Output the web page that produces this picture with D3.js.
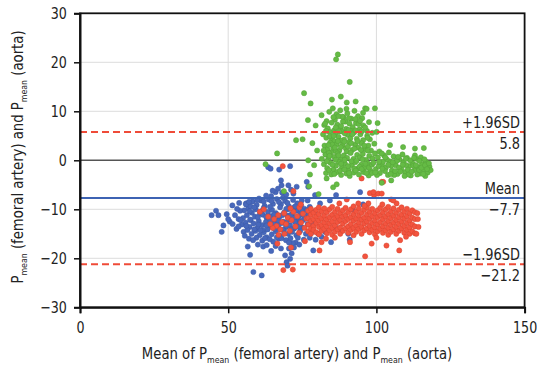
<!DOCTYPE html>
<html><head><meta charset="utf-8">
<script src="https://cdn.jsdelivr.net/npm/d3@7/dist/d3.min.js"></script>
<style>
body{margin:0;background:#fff;}
text{font-family:"DejaVu Sans Condensed","Liberation Sans Narrow",sans-serif;fill:#222;}
</style></head>
<body><svg id="c" width="537" height="367"></svg>
<script>
const xTicks=[0,50,100,150];
const yTicks=[-30,-20,-10,0,10,20,30];
const meanDiff=-7.7, upperLoA=5.8, lowerLoA=-21.2;
const refLabels=[{v:5.8,top:"+1.96SD",bot:"5.8"},{v:-7.7,top:"Mean",bot:"\u22127.7"},{v:-21.2,top:"\u22121.96SD",bot:"\u221221.2"}];

const bluePts=[[58.2,-8.4],[59.6,-9.1],[61.0,-8.2],[62.3,-9.3],[63.7,-8.0],[65.1,-8.9],[66.4,-7.9],[67.8,-9.0],[69.2,-8.3],[70.5,-9.4],[71.9,-8.1],[73.3,-8.8],[74.6,-9.2],[60.4,-7.8],[68.5,-7.6],
[55.4,-10.2],[56.8,-9.8],[58.0,-10.7],[59.3,-10.0],[60.7,-10.9],[62.0,-9.7],[63.4,-10.5],[64.8,-10.1],[66.1,-10.8],[67.5,-9.6],[68.9,-10.6],[70.2,-10.0],[71.6,-10.9],[73.0,-10.3],[74.4,-10.7],[75.7,-9.9],
[55.0,-11.8],[56.3,-11.2],[57.6,-12.2],[59.0,-11.5],[60.3,-12.4],[61.7,-11.1],[63.1,-12.0],[64.4,-11.4],[65.8,-12.3],[67.2,-11.6],[68.6,-12.5],[69.9,-11.3],[71.3,-12.1],[72.7,-11.7],[74.0,-12.4],[75.3,-11.2],
[54.6,-13.1],[55.9,-12.7],[57.2,-13.6],[58.6,-12.9],[59.9,-13.8],[61.3,-13.2],[62.7,-12.6],[64.0,-13.5],[65.4,-13.0],[66.8,-13.9],[68.2,-12.8],[69.5,-13.6],[70.9,-13.3],[72.3,-13.9],[73.6,-12.9],[75.0,-13.7],
[55.2,-14.6],[56.5,-14.2],[57.9,-15.0],[59.2,-14.4],[60.6,-15.3],[62.0,-14.7],[63.3,-14.1],[64.7,-15.1],[66.1,-14.5],[67.5,-15.4],[68.8,-14.3],[70.2,-15.0],[71.6,-14.6],[73.0,-15.3],[74.3,-14.4],[76.2,-15.0],[78.0,-14.8],[80.4,-15.0],[82.7,-14.6],
[57.0,-16.0],[59.5,-15.8],[61.5,-16.4],[63.0,-15.7],[65.2,-16.6],[67.0,-16.0],[69.5,-16.3],[71.0,-15.9],[72.8,-16.8],[75.5,-16.2],[84.7,-16.7],[78.7,-18.4],[60.0,-17.2],
[44.4,-11.2],[45.9,-10.3],[46.7,-11.2],[48.4,-13.3],[47.8,-14.6],[49.5,-11.0],[51.4,-9.2],[53.7,-8.7],[52.3,-11.2],[54.0,-10.3],[56.6,-17.6],[57.4,-19.3],[58.5,-22.8],[61.3,-23.5],[61.8,-17.6],
[63.5,-1.4],[64.3,-1.7],[67.2,-1.9],[70.9,-1.2],[67.8,-4.1],[68.0,-5.1],[70.3,-5.1],[73.1,-5.4],[76.5,-4.4],[77.0,-5.4],[69.7,-20.8],[70.9,-20.1],[71.4,-19.0],[72.2,-17.8],[69.2,-19.4],[75.3,-12.2],
[94.5,-6.5],[86.4,-7.1],[84.3,-8.2],[79.3,-7.1],[81.0,-8.8],[66.0,-6.5],[64.5,-7.3],[72.0,-6.8],[50.5,-12.5],[52.8,-14.0],[53.5,-12.0],[77.5,-9.5],[79.0,-10.5],[88.0,-14.5],[90.5,-15.0],[86.0,-13.5],[92.0,-10.0],[95.5,-9.0],[91.0,-16.2],[56.0,-8.8],
[65.0,-6.2],[66.8,-5.8],[68.2,-6.6],[69.6,-7.0],[71.2,-6.0],[70.5,-18.0],[71.8,-16.9],[70.0,-21.5],[62.8,-7.2],[57.5,-9.4],[53.0,-9.9],[76.8,-8.2],[78.2,-12.8],[77.0,-11.0],
[56.0,-9.0],[57.3,-10.4],[58.8,-9.6],[60.0,-11.6],[61.4,-10.3],[62.8,-11.5],[64.1,-9.5],[65.5,-11.1],[66.9,-12.4],[68.2,-11.2],[69.6,-9.9],[71.0,-11.2],[72.3,-9.6],[73.7,-11.5],[75.0,-10.4],
[56.1,-13.4],[57.4,-12.1],[58.8,-14.1],[60.2,-13.1],[61.6,-14.2],[62.9,-13.3],[64.3,-12.4],[65.7,-14.0],[67.0,-13.3],[68.4,-14.2],[69.8,-12.6],[71.2,-14.1],[72.5,-12.6],[73.9,-13.6],
[55.6,-15.4],[58.4,-16.3],[60.9,-14.3],[62.4,-15.9],[64.0,-16.1],[66.4,-15.7],[68.0,-15.9],[70.5,-16.8],[73.5,-15.8],[63.0,-17.3],[66.0,-17.5],[54.2,-12.2],[53.5,-13.5],[51.5,-13.0],[50.0,-12.0],
[57.0,-8.5],[59.8,-8.1],[62.0,-8.4],[64.6,-8.3],[67.1,-8.5],[70.0,-8.7],[72.6,-9.4],[74.8,-8.2],[76.5,-10.2],[76.8,-13.0],[77.5,-15.8],[79.5,-16.2],[81.5,-15.6],[74.0,-17.2],[67.8,-18.0],[64.5,-18.5]];

const redPts=[[65.5,-12.0],[66.3,-13.4],[66.9,-11.2],[67.6,-14.1],[68.2,-12.6],[68.9,-10.8],[69.5,-13.0],[70.1,-11.7],[70.8,-14.4],[71.4,-12.2],[72.0,-10.5],[72.7,-13.5],[73.3,-11.4],[73.9,-14.8],[74.6,-12.7],[75.2,-10.9],[75.8,-13.8],[76.4,-11.9],[65.0,-13.8],[67.0,-15.2],[69.0,-15.0],[71.0,-9.8],[74.0,-9.6],
[77.0,-10.3],[77.0,-11.8],[77.0,-13.1],[77.0,-14.5],[77.9,-9.9],[77.9,-12.4],[77.9,-11.1],[77.9,-13.9],[77.9,-15.0],[78.8,-10.7],[78.8,-12.0],[78.8,-13.4],[78.8,-14.2],
[79.7,-10.1],[79.7,-11.5],[79.7,-12.8],[79.7,-14.7],[80.6,-9.6],[80.6,-11.0],[80.6,-12.3],[80.6,-13.6],[80.6,-15.1],[81.5,-10.4],[81.5,-11.9],[81.5,-13.2],[81.5,-14.4],
[82.4,-9.8],[82.4,-11.3],[82.4,-12.7],[82.4,-14.0],[83.3,-10.6],[83.3,-12.1],[83.3,-13.5],[83.3,-14.9],[84.2,-10.0],[84.2,-11.6],[84.2,-12.9],[84.2,-14.3],
[85.1,-9.5],[85.1,-11.1],[85.1,-12.5],[85.1,-13.8],[85.1,-15.2],[86.0,-10.5],[86.0,-11.8],[86.0,-13.3],[86.0,-14.6],[86.9,-9.9],[86.9,-11.4],[86.9,-12.6],[86.9,-14.1],
[87.8,-10.8],[87.8,-12.2],[87.8,-13.7],[87.8,-15.0],[88.7,-10.2],[88.7,-11.5],[88.7,-12.9],[88.7,-14.4],[89.6,-9.7],[89.6,-11.2],[89.6,-12.4],[89.6,-13.9],
[90.5,-10.6],[90.5,-12.0],[90.5,-13.5],[90.5,-14.8],[91.4,-10.0],[91.4,-11.6],[91.4,-13.0],[91.4,-14.2],[92.3,-9.4],[92.3,-11.0],[92.3,-12.3],[92.3,-13.8],[92.3,-15.3],
[93.2,-10.4],[93.2,-11.9],[93.2,-13.3],[93.2,-14.6],[94.1,-9.8],[94.1,-11.3],[94.1,-12.7],[94.1,-14.0],[95.0,-10.7],[95.0,-12.1],[95.0,-13.6],[95.0,-15.0],
[95.9,-10.1],[95.9,-11.7],[95.9,-12.9],[95.9,-14.3],[96.8,-9.6],[96.8,-11.1],[96.8,-12.5],[96.8,-13.9],[97.7,-10.5],[97.7,-11.9],[97.7,-13.4],[97.7,-14.7],
[98.6,-9.9],[98.6,-11.4],[98.6,-12.8],[98.6,-14.2],[99.5,-10.8],[99.5,-12.3],[99.5,-13.7],[99.5,-15.1],[100.4,-10.2],[100.4,-11.6],[100.4,-13.1],[100.4,-14.5],
[101.3,-9.7],[101.3,-11.2],[101.3,-12.6],[101.3,-14.0],[102.2,-10.6],[102.2,-12.0],[102.2,-13.5],[102.2,-14.8],[103.1,-10.0],[103.1,-11.5],[103.1,-12.9],[103.1,-14.3],
[104.0,-9.5],[104.0,-11.0],[104.0,-12.4],[104.0,-13.8],[104.0,-15.2],[104.9,-10.4],[104.9,-11.8],[104.9,-13.2],[104.9,-14.6],[105.8,-9.8],[105.8,-11.3],[105.8,-12.7],[105.8,-14.1],
[106.7,-10.7],[106.7,-12.2],[106.7,-13.6],[106.7,-15.0],[107.6,-10.1],[107.6,-11.6],[107.6,-13.0],[107.6,-14.4],[108.5,-9.6],[108.5,-11.1],[108.5,-12.5],[108.5,-13.9],
[109.4,-10.5],[109.4,-11.9],[109.4,-13.4],[109.4,-14.8],[110.3,-9.9],[110.3,-11.4],[110.3,-12.8],[110.3,-14.2],[111.2,-10.8],[111.2,-12.3],[111.2,-13.7],[111.2,-15.0],
[112.1,-10.2],[112.1,-11.7],[112.1,-13.1],[112.1,-14.5],[113.0,-10.6],[113.0,-12.0],[113.0,-13.5],[113.0,-14.9],
[60.7,-10.5],[68.6,-22.4],[71.8,-22.3],[66.6,-17.0],[71.2,-17.8],[75.9,-16.5],[68.4,-1.2],[72.0,-6.3],[95.0,-3.7],[101.8,-4.4],[97.8,-6.7],[99.2,-7.1],[100.6,-6.8],[97.3,-8.8],[105.0,-8.0],[106.8,-8.8],[90.0,-8.0],[87.5,-8.8],[93.9,-8.8],
[91.1,-16.7],[96.2,-19.6],[98.4,-17.0],[103.4,-17.4],[107.7,-18.4],[108.0,-16.3],[81.5,-16.7],[80.8,-18.4],[113.5,-15.0],[99.0,-6.5],[101.8,-6.8],[102.3,-4.4],[105.7,-8.2],
[62.0,-10.0],[63.5,-11.5],[64.2,-13.0],[83.0,-16.0],[86.0,-15.8],[100.0,-15.8],[110.0,-15.6],[114.0,-12.0],[114.2,-13.6],[113.8,-10.8],[74.5,-9.0],[102.0,-9.0],[96.0,-9.3]];

const greenPts=[[84.1,9.9],[85.3,10.6],[86.5,9.4],[87.8,10.2],[88.9,8.8],[90.2,9.6],[91.5,8.5],[92.6,10.1],[93.8,9.0],[86.0,8.3],[89.5,7.9],[95.2,8.6],[83.2,8.0],
[82.4,7.2],[83.6,6.5],[84.9,7.7],[85.7,6.1],[86.8,7.3],[87.9,6.6],[88.7,7.9],[89.8,6.4],[90.9,7.5],[92.0,6.8],[93.1,7.6],[94.3,6.3],[95.6,7.1],[96.8,6.0],[97.5,7.8],[91.4,6.0],
[82.0,5.3],[83.1,4.6],[84.2,5.8],[85.0,4.3],[86.1,5.5],[87.2,4.8],[88.3,5.9],[89.1,4.2],[90.3,5.2],[91.2,4.5],[92.5,5.7],[93.4,4.4],[94.6,5.3],[95.5,4.1],[96.9,5.0],[97.8,4.3],[98.6,5.6],[88.0,4.0],[85.8,3.9],
[82.5,3.0],[83.5,2.2],[84.4,3.6],[85.4,2.5],[86.6,3.3],[87.5,2.0],[88.6,3.1],[89.7,2.4],[90.8,3.7],[91.8,2.1],[92.9,3.2],[93.9,2.6],[95.0,3.5],[96.1,2.3],[97.3,3.0],[98.2,2.0],[99.3,3.4],[86.2,1.9],[90.0,1.8],
[82.8,1.2],[83.8,0.4],[84.7,1.6],[85.8,0.7],[86.9,1.4],[87.9,0.2],[89.0,1.0],[90.1,0.5],[91.3,1.5],[92.3,0.3],[93.5,1.1],[94.4,0.6],[95.4,1.3],[96.5,0.1],[97.6,0.9],[98.7,0.4],[81.6,0.3],
[82.3,-0.8],[83.4,-1.6],[84.5,-0.5],[85.5,-1.9],[86.4,-1.1],[87.3,-0.3],[88.4,-1.4],[89.4,-0.7],[90.6,-2.0],[91.7,-1.0],[92.8,-0.4],[93.7,-1.7],[94.9,-0.9],[96.0,-1.5],[97.1,-0.6],[98.0,-2.1],
[83.0,-2.6],[84.8,-2.9],[86.7,-2.4],[88.1,-3.0],[89.9,-2.7],[91.0,-3.2],[92.4,-2.5],[94.1,-2.9],[95.7,-2.4],[97.4,-3.1],
[83.0,6.0],[84.3,4.9],[85.6,5.0],[86.3,6.7],[87.4,5.9],[88.1,7.0],[89.3,5.5],[90.6,6.2],[91.9,5.3],[93.0,6.1],[94.0,7.4],[95.0,5.9],[96.2,6.7],[97.0,4.6],
[84.0,1.5],[85.1,3.2],[86.0,2.6],[87.0,3.9],[88.0,2.7],[89.2,3.8],[90.4,2.8],[91.5,3.5],[92.6,2.4],[93.6,3.9],[94.8,2.1],[95.9,3.0],[97.0,2.0],
[83.3,-0.2],[84.2,0.9],[85.2,-0.9],[86.2,0.1],[87.2,1.0],[88.1,-0.7],[89.3,0.1],[90.4,-1.2],[91.6,-0.2],[92.5,-1.7],[93.3,-0.1],[94.3,-1.3],[95.3,0.2],[96.3,-0.7],[97.5,-1.5],[98.5,-0.9],
[84.0,-2.0],[85.8,-2.8],[87.7,-2.1],[89.2,-1.9],[90.8,-2.6],[93.0,-2.1],[95.0,-1.8],[96.6,-2.6],[88.5,8.9],[90.7,8.6],[92.9,8.4],[87.2,9.0],[85.5,8.8],[94.5,8.0],[89.9,10.5],[83.8,3.1],[82.2,2.0],
[99.0,-0.5],[99.8,-1.8],[100.5,0.6],[101.2,-2.6],[101.9,-0.9],[102.6,1.0],[103.2,-1.5],[103.9,-3.0],[104.5,-0.2],[105.2,-2.1],[105.8,0.8],[106.5,-1.0],[107.1,-2.8],[107.8,0.2],[108.4,-1.7],[109.1,-0.4],[109.7,-2.4],[110.3,0.5],[111.0,-1.2],[111.6,-3.1],[112.2,-0.6],[112.9,-2.0],[113.5,0.3],[114.1,-1.4],[114.8,-2.7],[115.4,-0.8],[116.0,-1.9],[116.7,-0.3],[117.3,-2.5],[117.9,-1.3],
[99.5,1.4],[101.0,1.8],[102.9,-2.2],[104.2,1.6],[106.0,-3.0],[108.8,1.2],[110.8,-2.9],[113.0,1.0],[115.0,0.6],[116.5,-3.2],[100.2,-3.0],[103.5,0.2],[106.9,-0.1],[109.5,-3.2],[112.5,-1.1],[114.5,-0.1],[105.0,-1.1],[107.6,-1.5],[110.0,-1.0],[118.3,-2.0],[98.5,-2.6],[100.8,-1.2],[102.2,-0.3],[111.4,0.0],[113.8,-2.9],[116.2,0.2],[104.8,-2.8],[108.1,-2.3],
[99.6,-2.5],[100.9,-0.3],[102.0,-1.7],[103.0,0.6],[104.0,-0.9],[105.5,-0.4],[106.3,-2.2],[107.3,0.7],[108.9,-0.9],[109.9,0.3],[110.6,-1.9],[111.9,-2.3],[112.7,0.5],[113.3,-1.0],[114.4,-2.0],[115.2,-1.5],[116.4,-1.0],[117.1,-1.8],[115.8,-2.8],[117.7,-0.6],
[87.0,21.6],[86.4,20.6],[91.0,16.0],[75.6,13.7],[77.8,11.6],[85.0,12.4],[90.0,11.8],[96.2,10.6],[99.5,10.6],[100.4,7.6],[100.1,5.8],[72.9,4.1],[75.1,4.3],[78.4,3.5],[76.9,8.2],[79.5,7.1],[81.5,9.2],[82.7,7.5],
[66.5,1.4],[62.6,-0.8],[77.0,0.0],[77.6,-2.9],[77.3,-5.3],[68.8,-6.3],[83.2,-3.7],[85.4,-5.5],[86.6,-4.9],[80.5,-6.9],[104.6,3.1],[109.0,2.7],[113.0,2.4],[116.0,2.5],[101.8,1.4],[105.0,-4.1],[101.8,-4.6],[96.7,10.5],[95.5,9.7],[80.0,2.0],[79.0,-1.0],[93.0,12.0],[88.0,13.0]];

const svg=d3.select("#c");
const x=d3.scaleLinear().domain([0,150]).range([80,524.6]);
const y=d3.scaleLinear().domain([-30,30]).range([307.3,13.3]);

// grid
svg.append("g").selectAll("line").data(yTicks.filter(d=>d!==0&&Math.abs(d)!==30)).join("line")
 .attr("x1",x(0)).attr("x2",x(150)).attr("y1",d=>y(d)).attr("y2",d=>y(d)).attr("stroke","#dcdcdc").attr("stroke-width",1);
svg.append("g").selectAll("line").data(xTicks.filter(d=>d>0&&d<150)).join("line")
 .attr("y1",y(-30)).attr("y2",y(30)).attr("x1",d=>x(d)).attr("x2",d=>x(d)).attr("stroke","#dcdcdc").attr("stroke-width",1);

// zero line
svg.append("line").attr("x1",x(0)).attr("x2",x(150)).attr("y1",y(0)).attr("y2",y(0)).attr("stroke","#555").attr("stroke-width",1.6);

// points
const R=2.6;
function pts(data,fill,stroke){
 svg.append("g").selectAll("circle").data(data).join("circle")
  .attr("cx",d=>x(d[0])).attr("cy",d=>y(d[1])).attr("r",R)
  .attr("fill",fill).attr("stroke",stroke).attr("stroke-width",0.5);
}
pts(bluePts,"#4868bb","#3c5aa6");
pts(redPts,"#f2543f","#d9452f");
pts(greenPts,"#65bb45","#54a238");

// reference lines
svg.append("line").attr("x1",x(0)).attr("x2",x(150)).attr("y1",y(meanDiff)).attr("y2",y(meanDiff)).attr("stroke","#3d63b3").attr("stroke-width",2);
[upperLoA,lowerLoA].forEach(v=>{
 svg.append("line").attr("x1",x(0)).attr("x2",x(150)).attr("y1",y(v)).attr("y2",y(v)).attr("stroke","#ef4b38").attr("stroke-width",2).attr("stroke-dasharray","7,4");
});

// frame
svg.append("rect").attr("x",x(0)).attr("y",y(30)).attr("width",x(150)-x(0)).attr("height",y(-30)-y(30)).attr("fill","none").attr("stroke","#111").attr("stroke-width",1.8);

// axes
const ya=svg.append("g").attr("transform",`translate(${x(0)},0)`).call(d3.axisLeft(y).tickValues(yTicks).tickSize(6).tickPadding(9));
const xa=svg.append("g").attr("transform",`translate(0,${y(-30)})`).call(d3.axisBottom(x).tickValues(xTicks).tickSize(6).tickPadding(8));
[ya,xa].forEach(a=>{a.select(".domain").attr("stroke","#111").attr("stroke-width",2);
 a.selectAll(".tick line").attr("stroke","#111").attr("stroke-width",1.5);
 a.selectAll("text").style("font-size","16px").attr("fill","#222").attr("transform","scale(0.88,1)");});

// ref labels
function lab(t,px,py){
 svg.append("text").attr("text-anchor","end").style("font-size","16px")
  .attr("transform",`translate(${px},${py}) scale(0.9,1)`).text(t);
}
refLabels.forEach(r=>{
 lab(r.top,520,y(r.v)-4);
 lab(r.bot,520,y(r.v)+17);
});

// axis titles
function title(t,px,py,rot){
 const el=svg.append("text").attr("text-anchor","middle").style("font-size","16px")
  .attr("transform",`translate(${px},${py}) rotate(${rot}) scale(0.92,1)`);
 el.append("tspan").text(t[0]);
 el.append("tspan").attr("dy",4).style("font-size","9.5px").text("mean");
 el.append("tspan").attr("dy",-4).text(t[1]);
 el.append("tspan").attr("dy",4).style("font-size","9.5px").text("mean");
 el.append("tspan").attr("dy",-4).text(t[2]);
}
title(["Mean of P"," (femoral artery) and P"," (aorta)"],297,359,0);
title(["P"," (femoral artery) and P"," (aorta)"],23,157,-90);
</script></body></html>
